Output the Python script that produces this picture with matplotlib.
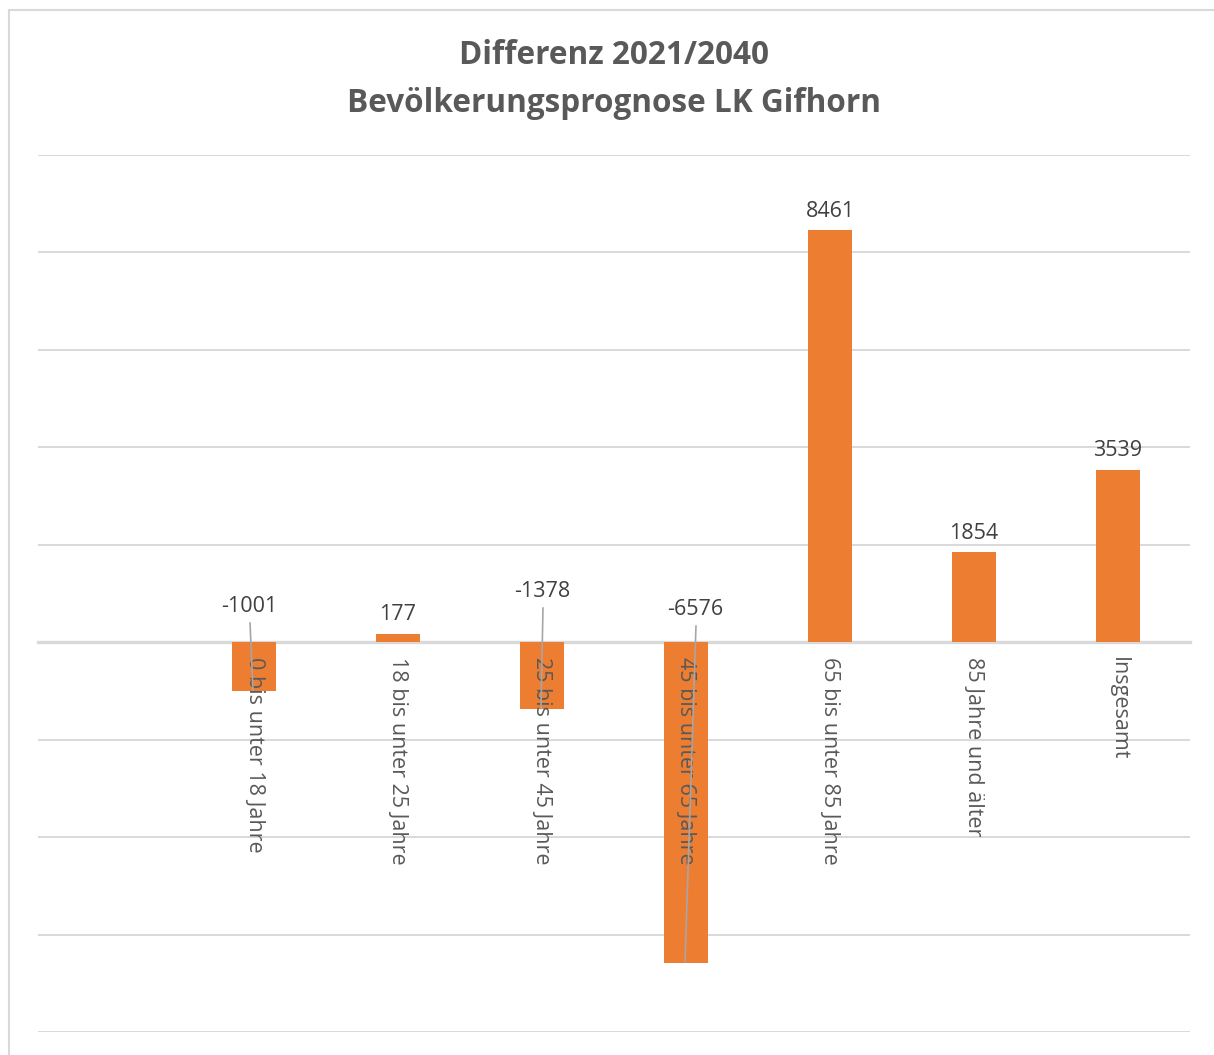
import matplotlib
matplotlib.use("Agg")
import matplotlib.pyplot as plt
from matplotlib.patches import Rectangle
import numpy as np

# ---- data ----
categories = ["", "0 bis unter 18 Jahre", "18 bis unter 25 Jahre", "25 bis unter 45 Jahre",
              "45 bis unter 65 Jahre", "65 bis unter 85 Jahre", "85 Jahre und älter", "Insgesamt"]
values = [np.nan, -1001, 177, -1378, -6576, 8461, 1854, 3539]
title_lines = ["Differenz 2021/2040", "Bevölkerungsprognose LK Gifhorn"]
y_min, y_max, y_step = -8000, 10000, 2000

# ---- layout / style ----
FONT = ["Open Sans", "DejaVu Sans"]
BAR = "#ED7D31"
GRID = "#D9D9D9"
TXT_TITLE = "#595959"
TXT_LABEL = "#404040"
TXT_CAT = "#595959"
LEADER = "#A6A6A6"
# pixel offsets (dx, dy above zero line) for labels of negative bars
neg_label_px = {1: (-5, 36), 3: (0, 51), 4: (9, 33)}

W, H, DPI = 1214, 1055, 100
fig = plt.figure(figsize=(W / DPI, H / DPI), dpi=DPI)
plt.rcParams["font.family"] = FONT

# outer chart border
fig.patches.append(Rectangle((9 / W, -0.1), 1.2, 1 - 10 / H + 0.1, transform=fig.transFigure,
                             fill=False, edgecolor=GRID, linewidth=1.5))

ax = fig.add_axes([38 / W, 1 - 1032 / H, (1190 - 38) / W, (1032 - 155) / H])
x = np.arange(len(categories))
ax.bar(x, values, width=0.31, color=BAR, zorder=2)

ax.set_xlim(-0.5, len(categories) - 0.5)
ax.set_ylim(y_min, y_max)
ax.set_yticks(np.arange(y_min, y_max + 1, y_step))
ax.yaxis.grid(True, color=GRID, linewidth=1.4)
ax.set_axisbelow(True)
ax.tick_params(axis="y", length=0, labelleft=False)
for s in ["left", "right", "top"]:
    ax.spines[s].set_visible(False)
ax.spines["bottom"].set_position(("data", 0))
ax.spines["bottom"].set_color(GRID)
ax.spines["bottom"].set_linewidth(2.4)
ax.spines["bottom"].set_zorder(1)
ax.set_xticks(x)
ax.tick_params(axis="x", length=0, labelbottom=False)

fig.canvas.draw()
to_disp = ax.transData.transform
to_data = ax.transData.inverted().transform

# category labels just below the zero line, drawn over the bars
for i, c in enumerate(categories):
    if not c:
        continue
    x0, y0 = to_disp((x[i], 0))
    cx, cy = to_data((x0, y0 - 15))
    ax.text(cx, cy, c, rotation=270, ha="center", va="top", fontsize=15.5,
            color=TXT_CAT, zorder=3)

for i, v in enumerate(values):
    if np.isnan(v):
        continue
    if v >= 0:
        ax.annotate(f"{v:d}", xy=(x[i], v), xytext=(0, 6), textcoords="offset points",
                    ha="center", va="bottom", fontsize=15.5, color=TXT_LABEL, zorder=4)
    else:
        dx, dy = neg_label_px[i]
        x0, y0 = to_disp((x[i], 0))
        lx, ly = to_data((x0 + dx, y0 + dy))
        ax.text(lx, ly, f"{v:d}", ha="center", va="center", fontsize=15.5,
                color=TXT_LABEL, zorder=4)
        sx, sy = to_data((x0 + dx + 1, y0 + dy - 16))
        ex, ey = to_data((x0 - 1, to_disp((x[i], v))[1]))
        ax.plot([sx, ex], [sy, ey], color=LEADER, linewidth=1.2, zorder=5,
                solid_capstyle="butt")

fig.text(614 / W, 1 - 55 / H, title_lines[0], ha="center", va="center",
         fontsize=22.7, fontweight="bold", color=TXT_TITLE)
fig.text(614 / W, 1 - 103 / H, title_lines[1], ha="center", va="center",
         fontsize=22.7, fontweight="bold", color=TXT_TITLE)

fig.savefig("out.png", dpi=DPI, facecolor="white")
